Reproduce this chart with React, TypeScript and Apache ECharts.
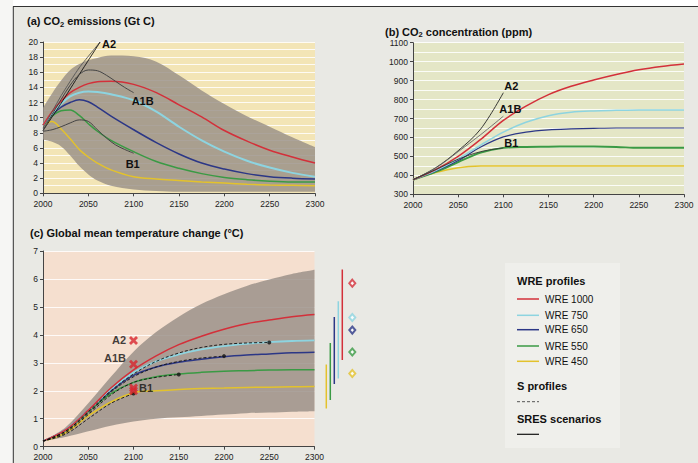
import React, { useEffect, useRef } from 'react';
import * as echarts from 'echarts';

// ---------- Panel (a): CO2 emissions (Gt C) ----------
const YEARS_A = [2000, 2010, 2020, 2030, 2040, 2050, 2060, 2075, 2100, 2125, 2150, 2175, 2200, 2225, 2250, 2275, 2300];
const EMIS_WRE1000 = [9.0, 10.8, 12.2, 13.3, 14.0, 14.5, 14.75, 14.8, 14.4, 13.3, 11.7, 10.1, 8.3, 6.9, 5.7, 4.8, 4.0];
const EMIS_WRE750 = [9.0, 10.5, 11.8, 12.8, 13.3, 13.45, 13.4, 13.1, 12.3, 10.8, 8.8, 7.0, 5.5, 4.3, 3.4, 2.7, 2.2];
const EMIS_WRE650 = [9.0, 10.4, 11.4, 12.0, 12.35, 12.1, 11.4, 10.2, 8.4, 6.7, 5.2, 4.0, 3.2, 2.6, 2.2, 2.0, 1.9];
const EMIS_WRE550 = [9.0, 10.2, 10.9, 11.0, 10.3, 9.2, 8.2, 7.0, 5.5, 4.2, 3.3, 2.6, 2.1, 1.8, 1.6, 1.5, 1.5];
const EMIS_WRE450 = [9.0, 9.5, 8.5, 7.2, 5.8, 4.8, 4.0, 3.1, 2.2, 1.9, 1.7, 1.5, 1.35, 1.2, 1.1, 1.05, 1.0];
const EMIS_BAND_LOW = [7.1, 6.8, 6.2, 5.0, 3.6, 2.5, 1.7, 1.0, 0.5, 0.3, 0.2, 0.2, 0.2, 0.2, 0.2, 0.2, 0.2];
const EMIS_BAND_HIGH = [11.3, 13.2, 14.9, 16.3, 17.1, 17.6, 17.9, 18.2, 18.1, 17.4, 15.6, 13.6, 11.8, 10.2, 8.8, 7.4, 6.1];

const SRES_YEARS_A = [2000, 2010, 2020, 2030, 2040, 2050, 2060, 2070, 2080, 2090, 2100];
const EMIS_A1B = [8.3, 10.4, 12.4, 14.3, 15.7, 16.3, 16.2, 15.6, 14.8, 14.0, 13.3];
const EMIS_B1 = [8.2, 8.4, 8.8, 9.3, 9.7, 9.5, 8.4, 7.3, 6.4, 5.8, 5.3];
const A2_YEARS_A = [2000, 2020, 2040, 2063];
const EMIS_A2 = [8.3, 11.9, 15.7, 20.0];
const EMIS_A2_ALT = [8.6, 12.9, 16.6, 20.0];

// ---------- Panel (b): CO2 concentration (ppm) ----------
const YEARS_B = [2000, 2025, 2050, 2075, 2100, 2125, 2150, 2175, 2200, 2225, 2250, 2275, 2300];
const CONC_WRE1000 = [377, 430, 500, 590, 690, 765, 826, 870, 903, 932, 957, 975, 988];
const CONC_WRE750 = [377, 425, 487, 560, 628, 680, 715, 733, 740, 743, 745, 745, 745];
const CONC_WRE650 = [377, 422, 478, 550, 603, 628, 640, 645, 648, 650, 650, 650, 650];
const CONC_WRE550 = [377, 418, 470, 520, 545, 550, 551, 552, 552, 550, 545, 545, 545];
const CONC_WRE450 = [377, 415, 440, 449, 450, 450, 450, 450, 450, 450, 450, 450, 450];
const SRES_YEARS_B = [2000, 2025, 2050, 2075, 2100];
const CONC_A2 = [377, 440, 530, 645, 836];
const CONC_A1B = [377, 438, 525, 615, 712];
const CONC_B1 = [377, 430, 485, 525, 545];

// ---------- Panel (c): Global mean temperature change (°C) ----------
const YEARS_C = [2000, 2025, 2050, 2075, 2100, 2125, 2150, 2175, 2200, 2225, 2250, 2275, 2300];
const TEMP_WRE1000 = [0.2, 0.6, 1.3, 2.1, 2.75, 3.25, 3.65, 3.95, 4.2, 4.4, 4.53, 4.65, 4.73];
const TEMP_WRE750 = [0.2, 0.6, 1.3, 2.05, 2.65, 3.05, 3.3, 3.48, 3.6, 3.68, 3.74, 3.78, 3.8];
const TEMP_WRE650 = [0.2, 0.6, 1.3, 2.0, 2.55, 2.85, 3.02, 3.13, 3.22, 3.28, 3.32, 3.36, 3.38];
const TEMP_WRE550 = [0.2, 0.58, 1.25, 1.9, 2.3, 2.5, 2.6, 2.66, 2.7, 2.72, 2.74, 2.75, 2.75];
const TEMP_WRE450 = [0.2, 0.5, 1.1, 1.6, 1.93, 2.0, 2.05, 2.08, 2.1, 2.12, 2.13, 2.14, 2.15];
const TEMP_BAND_LOW = [0.2, 0.35, 0.55, 0.75, 0.9, 1.0, 1.05, 1.1, 1.15, 1.2, 1.22, 1.25, 1.27];
const TEMP_BAND_HIGH = [0.2, 0.7, 1.55, 2.5, 3.4, 4.1, 4.65, 5.1, 5.45, 5.75, 5.98, 6.18, 6.33];

const TEMP_S450 = [0.2, 0.45, 1.0, 1.55, 1.9];
const TEMP_S550 = [0.2, 0.5, 1.15, 1.85, 2.3, 2.48, 2.58];
const TEMP_S650 = [0.2, 0.55, 1.2, 1.95, 2.5, 2.85, 3.05, 3.17, 3.24];
const TEMP_S750 = [0.2, 0.55, 1.25, 2.0, 2.6, 3.05, 3.35, 3.55, 3.66, 3.71, 3.73];

const SRES_NAMES = ['A2', 'A1B', 'B1', ''];
const SRES_TEMP_2100 = [3.8, 2.95, 2.1, 2.0];
const SRES_YEAR = 2100;

// ranges at right of panel (c), order WRE 450..1000
const RANGE_NAMES = ['WRE 450', 'WRE 550', 'WRE 650', 'WRE 750', 'WRE 1000'];
const RANGE_LO = [1.37, 1.67, 2.24, 2.44, 3.1];
const RANGE_HI = [2.94, 3.71, 4.64, 5.2, 6.34];
const EQUIL_TEMP = [2.62, 3.39, 4.17, 4.62, 5.85];

const FONT = '"Liberation Sans", Arial, Helvetica, sans-serif';
const C_RED = '#d3303a';
const C_CYAN = '#8dd4e0';
const C_NAVY = '#2c3786';
const C_GREEN = '#3a9a44';
const C_YELLOW = '#e3c22c';
const RANGE_COLORS = [C_YELLOW, C_GREEN, C_NAVY, C_CYAN, C_RED];
const BAND = 'rgba(152,143,134,0.82)';

const pairs = (xs: number[], ys: number[]) => xs.map((x, i) => [x, ys[i]]);

function xAxisFor(gi: number) {
  return {
    type: 'value', gridIndex: gi, min: 2000, max: 2300, interval: 50,
    axisLine: { show: true, onZero: false, lineStyle: { color: '#444', width: 1 } },
    axisTick: { show: true, length: 3, lineStyle: { color: '#444' } },
    axisLabel: { fontSize: 8.5, color: '#222', margin: 6, fontFamily: FONT, formatter: (v: number) => String(v) },
    splitLine: { show: false },
  };
}

function yAxisFor(gi: number, min: number, max: number, interval: number, minor: boolean) {
  return {
    type: 'value', gridIndex: gi, min, max, interval,
    axisLine: { show: true, onZero: false, lineStyle: { color: '#444', width: 1 } },
    axisTick: { show: true, length: 3, lineStyle: { color: '#444' } },
    axisLabel: { fontSize: 8.5, color: '#222', margin: 5, fontFamily: FONT, formatter: (v: number) => String(v) },
    splitLine: { show: true, lineStyle: { color: 'rgba(255,255,255,0.85)', width: 1 } },
    minorTick: { show: false, splitNumber: 2 },
    minorSplitLine: { show: minor, lineStyle: { color: 'rgba(255,255,255,0.85)', width: 1 } },
  };
}

function line(gi: number, xs: number[], ys: number[], color: string, width: number, extra: any = {}) {
  return {
    type: 'line', xAxisIndex: gi, yAxisIndex: gi, data: pairs(xs, ys),
    smooth: 0.35, symbol: 'none', silent: true,
    lineStyle: { color, width }, z: 3, ...extra,
  };
}

// Band: values stored as [value, year] so the stack happens on the value dimension.
function band(gi: number, xs: number[], lo: number[], hi: number[], key: string) {
  return [
    {
      type: 'line', xAxisIndex: gi, yAxisIndex: gi, data: xs.map((x, i) => [lo[i], x]),
      encode: { x: 1, y: 0 }, stack: key,
      smooth: 0.35, symbol: 'none', lineStyle: { opacity: 0 }, silent: true, z: 1,
    },
    {
      type: 'line', xAxisIndex: gi, yAxisIndex: gi,
      data: xs.map((x, i) => [hi[i] - lo[i], x]), encode: { x: 1, y: 0 }, stack: key,
      smooth: 0.35, symbol: 'none', lineStyle: { opacity: 0 }, silent: true, z: 1,
      areaStyle: { color: BAND, opacity: 1 },
    },
  ];
}

function endLab(text: string, distance: number, offset: number[]) {
  return {
    show: true, formatter: text, distance, offset,
    fontSize: 11, fontWeight: 'bold', color: '#111', fontFamily: FONT,
  };
}

function title(pre: string, post: string | null, x: number, y: number) {
  return {
    type: 'text', x, y, z: 10,
    style: {
      text: post !== null ? `{t|${pre}}{s|2}{t|${post}}` : `{t|${pre}}`,
      verticalAlign: 'middle',
      rich: {
        t: { fontSize: 11, fontWeight: 'bold', fontFamily: FONT, fill: '#111', lineHeight: 14 },
        s: { fontSize: 7.5, fontWeight: 'bold', fontFamily: FONT, fill: '#111', verticalAlign: 'bottom' },
      },
    },
  };
}

function legendGraphic() {
  const items: any[] = [];
  const x0 = 517;
  items.push({ type: 'rect', shape: { x: 505, y: 263, width: 115, height: 185 }, style: { fill: '#efefeb' }, z: 5 });
  const head = (text: string, y: number) => ({
    type: 'text', x: x0, y, z: 6,
    style: { text, font: `bold 11px ${FONT}`, fill: '#111', verticalAlign: 'middle' },
  });
  items.push(head('WRE profiles', 281));
  const entries = [
    ['WRE 1000', C_RED, 299],
    ['WRE 750', C_CYAN, 315.3],
    ['WRE 650', C_NAVY, 329.7],
    ['WRE 550', C_GREEN, 346],
    ['WRE 450', C_YELLOW, 361.3],
  ] as [string, string, number][];
  entries.forEach(([t, c, y]) => {
    items.push({ type: 'line', z: 6, shape: { x1: x0, y1: y, x2: x0 + 22, y2: y }, style: { stroke: c, lineWidth: 1.5 } });
    items.push({ type: 'text', z: 6, x: x0 + 28, y, style: { text: t, font: `10px ${FONT}`, fill: '#111', verticalAlign: 'middle' } });
  });
  items.push(head('S profiles', 385.7));
  items.push({ type: 'line', z: 6, shape: { x1: x0, y1: 401.7, x2: x0 + 22, y2: 401.7 }, style: { stroke: '#555', lineWidth: 1, lineDash: [3, 2] } });
  items.push(head('SRES scenarios', 418.7));
  items.push({ type: 'line', z: 6, shape: { x1: x0, y1: 434.3, x2: x0 + 22, y2: 434.3 }, style: { stroke: '#111', lineWidth: 1.2 } });
  return items;
}

export default function App() {
  const ref = useRef<HTMLDivElement>(null);

  useEffect(() => {
    if (!ref.current) return;
    const chart = echarts.init(ref.current, undefined, { renderer: 'svg' });

    const sEnds = [TEMP_S450, TEMP_S550, TEMP_S650, TEMP_S750].map((arr) => [
      YEARS_C[arr.length - 1], arr[arr.length - 1],
    ]);

    const xMarker = 'path://M2.2,0 L5,2.8 L7.8,0 L10,2.2 L7.2,5 L10,7.8 L7.8,10 L5,7.2 L2.2,10 L0,7.8 L2.8,5 L0,2.2 Z';
    const dashed = (color: string) => ({ color, width: 0.9, type: [3, 2] });

    const series: any[] = [
      // (a)
      ...band(0, YEARS_A, EMIS_BAND_LOW, EMIS_BAND_HIGH, 'bandA'),
      line(0, YEARS_A, EMIS_WRE450, C_YELLOW, 1.5),
      line(0, YEARS_A, EMIS_WRE550, C_GREEN, 1.5),
      line(0, YEARS_A, EMIS_WRE650, C_NAVY, 1.5),
      line(0, YEARS_A, EMIS_WRE750, C_CYAN, 2),
      line(0, YEARS_A, EMIS_WRE1000, C_RED, 1.5),
      line(0, A2_YEARS_A, EMIS_A2_ALT, '#555', 0.9, { smooth: 0.2, z: 4 }),
      line(0, A2_YEARS_A, EMIS_A2, '#111', 0.9, { smooth: 0.2, z: 4, endLabel: endLab('A2', 2, [0, 2]) }),
      line(0, SRES_YEARS_A, EMIS_A1B, '#444', 1, { z: 4, endLabel: endLab('A1B', 0, [-2, 8]) }),
      line(0, SRES_YEARS_A, EMIS_B1, '#444', 1, { z: 4, endLabel: endLab('B1', 0, [-8, 11]) }),
      // (b)
      line(1, YEARS_B, CONC_WRE450, C_YELLOW, 1.5),
      line(1, YEARS_B, CONC_WRE550, C_GREEN, 2),
      line(1, YEARS_B, CONC_WRE650, C_NAVY, 1.2),
      line(1, YEARS_B, CONC_WRE750, C_CYAN, 1.5),
      line(1, YEARS_B, CONC_WRE1000, C_RED, 1.5),
      line(1, SRES_YEARS_B, CONC_A2, '#222', 0.9, { z: 4, endLabel: endLab('A2', 1, [0, -6.5]) }),
      line(1, SRES_YEARS_B, CONC_A1B, '#666', 0.9, { z: 4, endLabel: endLab('A1B', 0, [-4, -7.5]) }),
      line(1, SRES_YEARS_B, CONC_B1, '#333', 0.9, { z: 4, endLabel: endLab('B1', 1, [0, -4.5]) }),
      // (c)
      ...band(2, YEARS_C, TEMP_BAND_LOW, TEMP_BAND_HIGH, 'bandC'),
      line(2, YEARS_C, TEMP_WRE450, C_YELLOW, 1.5),
      line(2, YEARS_C, TEMP_WRE550, C_GREEN, 1.5),
      line(2, YEARS_C, TEMP_WRE650, C_NAVY, 1.5),
      line(2, YEARS_C, TEMP_WRE750, C_CYAN, 1.8),
      line(2, YEARS_C, TEMP_WRE1000, C_RED, 1.5),
      line(2, YEARS_C.slice(0, TEMP_S450.length), TEMP_S450, '#111', 0.9, { z: 4, lineStyle: dashed('#111') }),
      line(2, YEARS_C.slice(0, TEMP_S550.length), TEMP_S550, '#111', 0.9, { z: 4, lineStyle: dashed('#111') }),
      line(2, YEARS_C.slice(0, TEMP_S650.length), TEMP_S650, '#111', 0.9, { z: 4, lineStyle: dashed('#111') }),
      line(2, YEARS_C.slice(0, TEMP_S750.length), TEMP_S750, '#111', 0.9, { z: 4, lineStyle: dashed('#111') }),
      {
        type: 'scatter', xAxisIndex: 2, yAxisIndex: 2, data: sEnds, symbol: 'circle', symbolSize: 4,
        itemStyle: { color: '#111' }, z: 5, silent: true,
      },
      {
        type: 'scatter', xAxisIndex: 2, yAxisIndex: 2, symbol: xMarker, symbolSize: 9, z: 6, silent: true,
        itemStyle: { color: '#d8262e' },
        data: SRES_TEMP_2100.map((v, i) => ({
          value: [SRES_YEAR, v], name: SRES_NAMES[i],
          label: {
            show: SRES_NAMES[i] !== '',
            formatter: '{b}',
            position: SRES_NAMES[i] === 'B1' ? 'right' : 'left',
            distance: SRES_NAMES[i] === 'B1' ? 1 : 3,
            offset: SRES_NAMES[i] === 'A1B' ? [0, -6.5] : [0, 0],
            fontSize: 11, fontWeight: 'bold', color: '#111', fontFamily: FONT,
          },
        })),
      },
      // range bars
      ...RANGE_NAMES.map((n, i) => ({
        type: 'line', xAxisIndex: 3, yAxisIndex: 3, symbol: 'none', silent: true,
        data: [[n, RANGE_LO[i]], [n, RANGE_HI[i]]],
        lineStyle: { color: RANGE_COLORS[i], width: 1.5 },
      })),
      {
        type: 'scatter', xAxisIndex: 4, yAxisIndex: 4, symbol: 'emptyDiamond', symbolSize: [6, 7], silent: true,
        data: EQUIL_TEMP.map((v, i) => ({ value: ['eq', v], itemStyle: { color: RANGE_COLORS[i], borderWidth: 1.5 } })),
      },
    ];

    chart.setOption({
      animation: false,
      backgroundColor: '#e9e9e4',
      grid: [
        { left: 43, top: 42, width: 272, height: 151.3, show: true, backgroundColor: '#f3e5b6', borderWidth: 0 },
        { left: 413, top: 42.7, width: 271, height: 151.6, show: true, backgroundColor: '#e4e6c6', borderWidth: 0 },
        { left: 43, top: 251, width: 271.5, height: 195.7, show: true, backgroundColor: '#f5dfcf', borderWidth: 0 },
        { left: 326.3, top: 251, width: 16, height: 195.7 },
        { left: 348.3, top: 251, width: 8, height: 195.7 },
      ],
      xAxis: [
        xAxisFor(0), xAxisFor(1), xAxisFor(2),
        { type: 'category', gridIndex: 3, data: RANGE_NAMES, boundaryGap: false, show: false },
        { type: 'category', gridIndex: 4, data: ['eq'], boundaryGap: true, show: false },
      ],
      yAxis: [
        yAxisFor(0, 0, 20, 2, true),
        yAxisFor(1, 300, 1100, 100, true),
        yAxisFor(2, 0, 7, 1, false),
        { type: 'value', gridIndex: 3, min: 0, max: 7, show: false, splitLine: { show: false } },
        { type: 'value', gridIndex: 4, min: 0, max: 7, show: false, splitLine: { show: false } },
      ],
      series,
      graphic: [
        { type: 'rect', shape: { x: 0, y: 0, width: 698, height: 6.5 }, style: { fill: '#ffffff' }, z: 1 },
        { type: 'rect', shape: { x: 0, y: 0, width: 13, height: 463 }, style: { fill: '#f6f6f4' }, z: 1 },
        { type: 'line', shape: { x1: 13, y1: 6.5, x2: 698, y2: 6.5 }, style: { stroke: '#333', lineWidth: 1 }, z: 2 },
        { type: 'line', shape: { x1: 13.3, y1: 6.5, x2: 13.3, y2: 463 }, style: { stroke: '#333', lineWidth: 1 }, z: 2 },
        title('(a) CO', ' emissions (Gt C)', 27, 21),
        title('(b) CO', ' concentration (ppm)', 385, 31.5),
        title('(c) Global mean temperature change (°C)', null, 30, 233),
        ...legendGraphic(),
      ],
    });

    return () => chart.dispose();
  }, []);

  return (
    <div
      ref={ref}
      style={{ position: 'absolute', left: 0, top: 0, width: 698, height: 463 }}
    />
  );
}
